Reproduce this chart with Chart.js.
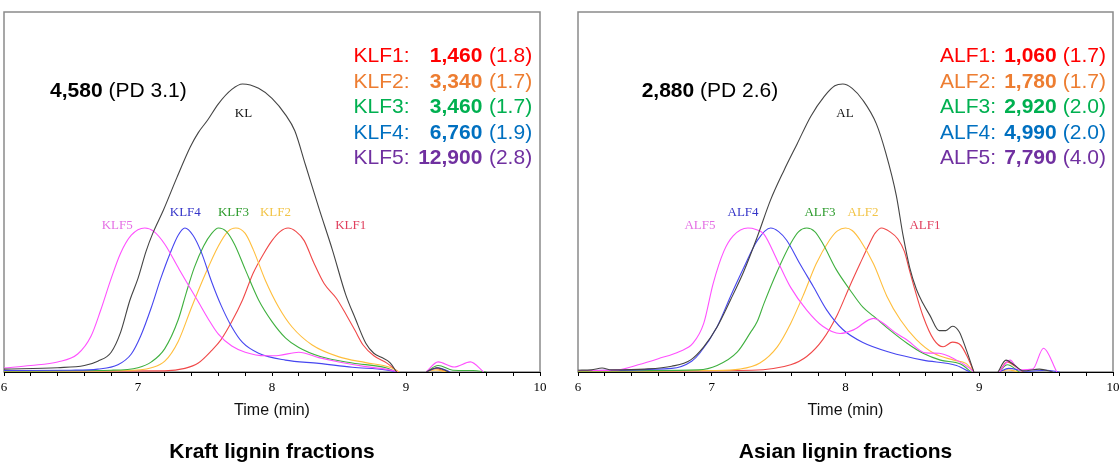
<!DOCTYPE html>
<html>
<head>
<meta charset="utf-8">
<script src="https://cdn.jsdelivr.net/npm/chart.js@4"></script>
<style>
  html, body { margin: 0; padding: 0; background: #fff; overflow: hidden; }
  #wrap { position: relative; width: 1120px; height: 476px; }
  canvas { position: absolute; top: 0; }
  #kraft { left: 0; }
  #asian { left: 566px; }
</style>
</head>
<body>
<div id="wrap">
  <canvas id="kraft" width="560" height="476"></canvas>
  <canvas id="asian" width="554" height="476"></canvas>
</div>
<script>
// GPC traces, [time (min), normalised signal]; null = gap in the trace
var KL = [[6.0,0.008],[6.4,0.012],[6.6,0.018],[6.7,0.03],[6.8,0.055],[6.87,0.11],[6.94,0.2],[7.0,0.26],[7.06,0.335],[7.11,0.385],[7.19,0.45],[7.29,0.54],[7.39,0.625],[7.45,0.665],[7.52,0.70],[7.6,0.745],[7.7,0.785],[7.78,0.80],[7.9,0.788],[8.0,0.76],[8.1,0.715],[8.17,0.67],[8.25,0.575],[8.35,0.455],[8.45,0.34],[8.55,0.215],[8.62,0.15],[8.7,0.08],[8.76,0.052],[8.82,0.04],[8.88,0.026],[8.93,0],[9.05,null],[9.15,0],[9.23,0.012],[9.32,0]];
var KLF5 = [[6.0,0.011],[6.2,0.018],[6.4,0.028],[6.55,0.05],[6.65,0.1],[6.72,0.17],[6.8,0.26],[6.87,0.33],[6.95,0.38],[7.05,0.40],[7.12,0.39],[7.2,0.355],[7.3,0.29],[7.37,0.245],[7.45,0.195],[7.52,0.15],[7.6,0.105],[7.7,0.072],[7.8,0.055],[7.95,0.045],[8.05,0.046],[8.2,0.055],[8.35,0.04],[8.5,0.028],[8.7,0.015],[8.88,0.006],[8.94,0],[9.05,null],[9.15,0],[9.24,0.028],[9.36,0.014],[9.48,0.028],[9.58,0]];
var KLF4 = [[6.0,0.004],[6.5,0.005],[6.7,0.008],[6.85,0.02],[6.95,0.05],[7.02,0.1],[7.1,0.18],[7.17,0.26],[7.24,0.33],[7.3,0.38],[7.35,0.40],[7.41,0.38],[7.47,0.335],[7.55,0.25],[7.62,0.185],[7.7,0.125],[7.78,0.082],[7.9,0.052],[8.1,0.033],[8.35,0.024],[8.6,0.013],[8.85,0.006],[8.93,0],[9.05,null],[9.15,0],[9.24,0.012],[9.33,0]];
var KLF3 = [[6.0,0.003],[6.8,0.005],[7.0,0.012],[7.1,0.028],[7.2,0.065],[7.3,0.145],[7.36,0.22],[7.42,0.29],[7.49,0.35],[7.55,0.385],[7.6,0.40],[7.66,0.39],[7.72,0.355],[7.8,0.285],[7.9,0.2],[8.0,0.14],[8.1,0.095],[8.2,0.068],[8.36,0.043],[8.6,0.025],[8.85,0.012],[8.93,0],[9.05,null],[9.15,0],[9.24,0.018],[9.35,0.005],[9.5,0.004],[9.6,0]];
var KLF2 = [[6.0,0.002],[6.9,0.004],[7.1,0.012],[7.2,0.03],[7.3,0.085],[7.4,0.18],[7.5,0.27],[7.6,0.35],[7.67,0.39],[7.73,0.40],[7.8,0.385],[7.86,0.34],[7.95,0.255],[8.05,0.18],[8.15,0.125],[8.3,0.075],[8.5,0.042],[8.7,0.026],[8.88,0.013],[8.95,0],[9.05,null],[9.15,0],[9.22,0.006],[9.3,0]];
var KLF1 = [[6.0,0.002],[7.2,0.003],[7.35,0.01],[7.45,0.025],[7.55,0.06],[7.62,0.09],[7.7,0.14],[7.78,0.2],[7.86,0.275],[7.94,0.33],[8.0,0.365],[8.06,0.39],[8.12,0.40],[8.18,0.39],[8.24,0.365],[8.31,0.305],[8.39,0.245],[8.48,0.205],[8.56,0.155],[8.62,0.115],[8.68,0.075],[8.76,0.045],[8.86,0.024],[8.94,0],[9.05,null],[9.15,0],[9.22,0.01],[9.3,0]];

var AL = [[6.0,0.005],[6.1,0.006],[6.18,0.011],[6.25,0.006],[6.5,0.008],[6.7,0.016],[6.84,0.033],[6.94,0.07],[7.04,0.125],[7.14,0.2],[7.24,0.28],[7.34,0.375],[7.44,0.478],[7.54,0.56],[7.64,0.635],[7.74,0.71],[7.84,0.765],[7.92,0.795],[7.98,0.80],[8.05,0.788],[8.13,0.755],[8.23,0.69],[8.3,0.61],[8.38,0.49],[8.43,0.38],[8.48,0.29],[8.53,0.23],[8.58,0.19],[8.63,0.158],[8.7,0.115],[8.75,0.115],[8.8,0.127],[8.85,0.112],[8.9,0.065],[8.96,0],[9.05,null],[9.14,0],[9.2,0.033],[9.26,0.02],[9.33,0.003],[9.45,0.008],[9.55,0]];
var ALF5 = [[6.0,0.004],[6.3,0.006],[6.45,0.02],[6.6,0.037],[6.76,0.057],[6.86,0.08],[6.94,0.135],[7.01,0.245],[7.09,0.335],[7.16,0.378],[7.27,0.40],[7.33,0.396],[7.39,0.383],[7.49,0.31],[7.59,0.235],[7.71,0.172],[7.83,0.127],[7.96,0.107],[8.06,0.117],[8.21,0.149],[8.28,0.136],[8.37,0.11],[8.46,0.089],[8.6,0.053],[8.7,0.052],[8.83,0.033],[8.93,0.01],[8.96,0],[9.05,null],[9.15,0],[9.23,0.033],[9.3,0.006],[9.4,0.008],[9.48,0.066],[9.58,0]];
var ALF4 = [[6.0,0.004],[6.7,0.01],[6.85,0.03],[6.91,0.052],[7.04,0.126],[7.14,0.21],[7.24,0.29],[7.34,0.365],[7.44,0.40],[7.5,0.39],[7.56,0.366],[7.66,0.30],[7.76,0.237],[7.86,0.172],[7.98,0.118],[8.13,0.082],[8.33,0.055],[8.58,0.033],[8.83,0.018],[8.93,0],[9.05,null],[9.15,0],[9.22,0.01],[9.35,0.002],[9.5,0.005],[9.6,0]];
var ALF3 = [[6.0,0.003],[6.9,0.006],[7.04,0.018],[7.19,0.055],[7.29,0.11],[7.34,0.14],[7.39,0.19],[7.49,0.28],[7.59,0.357],[7.65,0.39],[7.71,0.40],[7.77,0.39],[7.83,0.357],[7.93,0.285],[8.03,0.23],[8.13,0.18],[8.21,0.155],[8.33,0.117],[8.46,0.08],[8.58,0.052],[8.71,0.033],[8.86,0.022],[8.94,0],[9.05,null],[9.15,0],[9.21,0.02],[9.3,0]];
var ALF2 = [[6.0,0.002],[7.0,0.004],[7.21,0.008],[7.36,0.025],[7.49,0.07],[7.59,0.135],[7.69,0.218],[7.78,0.30],[7.88,0.366],[7.94,0.392],[8.0,0.40],[8.05,0.393],[8.11,0.366],[8.21,0.30],[8.31,0.21],[8.41,0.145],[8.53,0.09],[8.66,0.052],[8.81,0.033],[8.9,0.024],[8.96,0],[9.05,null],[9.15,0],[9.21,0.006],[9.3,0]];
var ALF1 = [[6.0,0.002],[7.3,0.005],[7.59,0.02],[7.71,0.043],[7.83,0.09],[7.94,0.16],[8.03,0.237],[8.11,0.302],[8.18,0.357],[8.22,0.385],[8.27,0.40],[8.33,0.39],[8.39,0.37],[8.44,0.335],[8.48,0.28],[8.51,0.24],[8.58,0.155],[8.66,0.09],[8.73,0.07],[8.8,0.083],[8.86,0.075],[8.91,0.043],[8.96,0],[9.05,null],[9.15,0],[9.21,0.028],[9.27,0.015],[9.33,0]];

// molecular weight (Mw) and dispersity of each sample
var kraftNames = ['KLF1:', 'KLF2:', 'KLF3:', 'KLF4:', 'KLF5:'];
var kraftMw = ['1,460', '3,340', '3,460', '6,760', '12,900'];
var kraftPd = ['(1.8)', '(1.7)', '(1.7)', '(1.9)', '(2.8)'];
var asianNames = ['ALF1:', 'ALF2:', 'ALF3:', 'ALF4:', 'ALF5:'];
var asianMw = ['1,060', '1,780', '2,920', '4,990', '7,790'];
var asianPd = ['(1.7)', '(1.7)', '(2.0)', '(2.0)', '(4.0)'];

var traceColors = ['#444444', '#ff50ff', '#4646f0', '#3fb03f', '#ffbe3c', '#f04848'];
var labelColors = ['#111111', '#e46fe4', '#3434c8', '#2a9a2a', '#f2c447', '#e0405e'];
var textColors = ['#ff0000', '#ed7d31', '#00b050', '#0070c0', '#7030a0'];

var SANS = '"Liberation Sans", Arial, sans-serif';
var SERIF = '"Liberation Serif", "Times New Roman", serif';

function toXY(arr) {
  return arr.map(function (p) { return {x: p[0], y: p[1]}; });
}

// text placed in data coordinates [time, signal]
var panels = {
  kraft: {
    series: [KL, KLF5, KLF4, KLF3, KLF2, KLF1],
    names: ['KL', 'KLF5', 'KLF4', 'KLF3', 'KLF2', 'KLF1'],
    labelAt: [[7.787, 0.719], [6.845, 0.408], [7.353, 0.442], [7.712, 0.442], [8.026, 0.442], [8.587, 0.406]],
    total: ['4,580', ' (PD 3.1)'], totalAt: [6.344, 0.781],
    rows: [kraftNames, kraftMw, kraftPd], rowsX: [8.609, 9.570, 9.619],
    title: 'Kraft lignin fractions'
  },
  asian: {
    series: [AL, ALF5, ALF4, ALF3, ALF2, ALF1],
    names: ['AL', 'ALF5', 'ALF4', 'ALF3', 'ALF2', 'ALF1'],
    labelAt: [[7.996, 0.719], [6.912, 0.408], [7.234, 0.442], [7.809, 0.442], [8.131, 0.442], [8.594, 0.406]],
    total: ['2,880', ' (PD 2.6)'], totalAt: [6.476, 0.781],
    rows: [asianNames, asianMw, asianPd], rowsX: [8.707, 9.579, 9.624],
    title: 'Asian lignin fractions'
  }
};
var rowsY = [0.876, 0.806, 0.736, 0.664, 0.594];

var framePlugin = {
  id: 'frame',
  beforeDraw: function (chart) {
    var a = chart.chartArea, ctx = chart.ctx;
    ctx.save();
    ctx.strokeStyle = '#8a8a8a';
    ctx.lineWidth = 1.5;
    ctx.strokeRect(a.left, a.top, a.right - a.left, a.bottom - a.top);
    ctx.restore();
  }
};

var textPlugin = {
  id: 'notes',
  afterDatasetsDraw: function (chart) {
    var p = chart.options.plugins.notes.panel;
    var ctx = chart.ctx, xs = chart.scales.x, ys = chart.scales.y;
    ctx.save();
    ctx.textBaseline = 'middle';
    // trace labels
    ctx.font = '13px ' + SERIF;
    ctx.textAlign = 'center';
    p.names.forEach(function (n, i) {
      ctx.fillStyle = labelColors[i];
      ctx.fillText(n, xs.getPixelForValue(p.labelAt[i][0]), ys.getPixelForValue(p.labelAt[i][1]));
    });
    // whole-lignin Mw
    var tx = xs.getPixelForValue(p.totalAt[0]), ty = ys.getPixelForValue(p.totalAt[1]);
    ctx.textAlign = 'left';
    ctx.fillStyle = '#000';
    ctx.font = 'bold 21px ' + SANS;
    ctx.fillText(p.total[0], tx, ty);
    var w = ctx.measureText(p.total[0]).width;
    ctx.font = '21px ' + SANS;
    ctx.fillText(p.total[1], tx + w, ty);
    // fraction Mw table
    for (var i = 0; i < 5; i++) {
      var y = ys.getPixelForValue(rowsY[i]);
      ctx.fillStyle = textColors[i];
      ctx.font = '21px ' + SANS;
      ctx.textAlign = 'left';
      ctx.fillText(p.rows[0][i], xs.getPixelForValue(p.rowsX[0]), y);
      ctx.font = 'bold 21px ' + SANS;
      ctx.textAlign = 'right';
      ctx.fillText(p.rows[1][i], xs.getPixelForValue(p.rowsX[1]), y);
      ctx.font = '21px ' + SANS;
      ctx.textAlign = 'left';
      ctx.fillText(p.rows[2][i], xs.getPixelForValue(p.rowsX[2]), y);
    }
    ctx.restore();
  }
};

function makeChart(id, pad) {
  var p = panels[id];
  new Chart(document.getElementById(id), {
    type: 'line',
    data: {
      datasets: p.series.map(function (s, i) {
        return {
          label: p.names[i],
          data: toXY(s),
          borderColor: traceColors[i],
          borderWidth: 1.1,
          pointRadius: 0,
          fill: false,
          cubicInterpolationMode: 'monotone',
          spanGaps: false
        };
      })
    },
    options: {
      responsive: false,
      animation: false,
      layout: { padding: { left: pad[0], right: pad[1], top: 12, bottom: 0 } },
      scales: {
        x: {
          type: 'linear', min: 6, max: 10,
          afterFit: function (s) {
            s.height = 60.8;
            s.paddingLeft = 0;
            s.paddingRight = 0;
          },
          ticks: {
            stepSize: 0.2, autoSkip: false, maxRotation: 0, padding: 4,
            color: '#000', font: { family: SERIF, size: 13 },
            callback: function (v) { return Math.abs(v - Math.round(v)) < 1e-6 ? String(Math.round(v)) : ''; }
          },
          grid: { drawOnChartArea: false, drawTicks: true, tickLength: 4, color: '#000' },
          border: { color: '#000', width: 1 },
          title: { display: true, text: 'Time (min)', color: '#111', font: { family: SANS, size: 16 }, padding: { top: 4, bottom: 13 } }
        },
        y: { min: 0, max: 1, display: false }
      },
      plugins: {
        legend: { display: false },
        tooltip: { enabled: false },
        title: {
          display: true, position: 'bottom', text: p.title, color: '#000',
          font: { family: SANS, size: 21, weight: 'bold' }, padding: { top: 6.5, bottom: 11.5 }
        },
        notes: { panel: p }
      }
    },
    plugins: [framePlugin, textPlugin]
  });
}

makeChart('kraft', [4, 20]);
makeChart('asian', [12, 7]);
</script>
</body>
</html>
